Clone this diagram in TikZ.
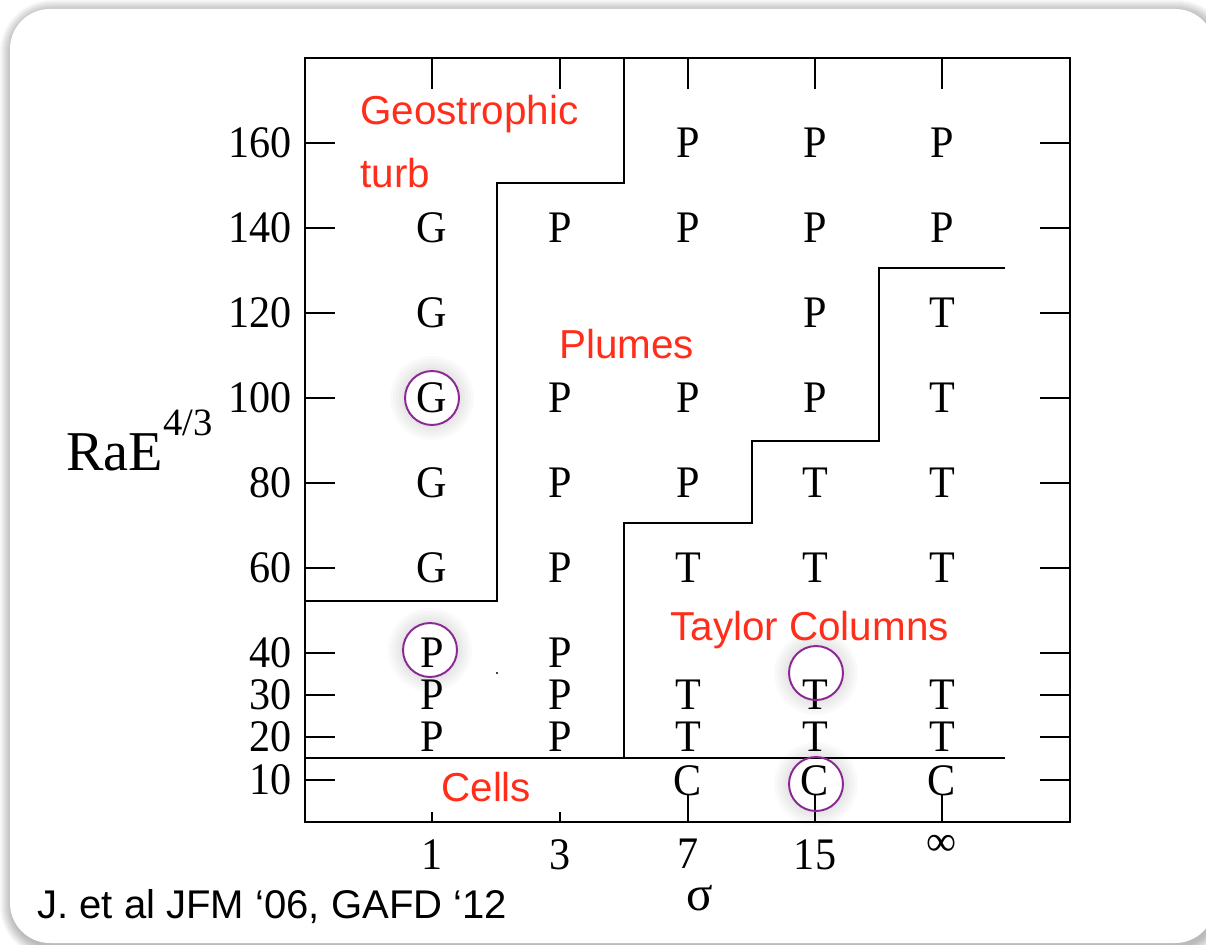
\documentclass[tikz,border=0pt]{standalone}
\usepackage{fontspec}
\setmainfont{Liberation Serif}
\newfontfamily\labfont{Liberation Sans}
\definecolor{lblred}{RGB}{255,45,25}
\definecolor{ringpurple}{RGB}{140,40,150}
\newcommand{\tallglyph}[1]{\scalebox{1}[1.07]{#1}}
\tikzset{
  lt/.style={font=\fontsize{24}{24}\selectfont, inner sep=0pt},
  regionlbl/.style={font=\labfont\fontsize{23}{23}\selectfont, text=lblred, inner sep=0pt, anchor=base west},
  frame/.style={line width=1.6pt},
  tickline/.style={line width=1.4pt},
  boundary/.style={line width=1.15pt, line join=miter},
  ring/.style={draw=ringpurple, line width=1.1pt},
}
\begin{document}
\begin{tikzpicture}[x=0.02cm, y=-0.02cm]
\useasboundingbox (0,0) rectangle (1206,945);
\fill[white] (0,0) rectangle (1206,945);
% card shadow
\foreach \r [evaluate=\r as \rc using 0.8+0.02*\r] in {1,...,12}
  \fill[black, opacity=0.025, rounded corners=\rc cm] (10-\r+2,9-\r+3) rectangle (1215+\r+2,943+\r+3);
% card
\fill[white, rounded corners=0.8cm] (10,9) rectangle (1215,943);
% soft halos around the rings
\foreach \cx/\cy in {432/398, 430/650, 816/673, 816/784}
  \foreach \hr in {30,33,36,39,42}
    \fill[black, opacity=0.018, even odd rule] (\cx,\cy) circle (\hr) (\cx,\cy) circle (26);
% frame
\draw[frame] (305,58) rectangle (1070,822);
% ticks
\foreach \y in {143,228,313,398,483,568,653,695,737,780} {
  \draw[tickline] (305,\y) -- (335,\y);
  \draw[tickline] (1040,\y) -- (1070,\y);
}
\foreach \x in {432,560,688,815,942}
  \draw[tickline] (\x,58) -- (\x,89);
\foreach \x in {432,560}
  \draw[tickline] (\x,822) -- (\x,812);
\foreach \x in {688,815,942}
  \draw[tickline] (\x,822) -- (\x,794);
% regime boundaries
\draw[boundary] (624,58) -- (624,183) -- (497,183) -- (497,601) -- (305,601);
\draw[boundary] (1005,268) -- (879,268) -- (879,441) -- (752,441) -- (752,523) -- (624,523) -- (624,758);
\draw[boundary] (305,758) -- (1005,758);
\fill (497,673) circle (1.1);
% y tick labels
\foreach \v/\y in {160/143,140/228,120/313,100/398,80/483,60/568,40/653,30/695,20/737,10/780}
  \node[lt, anchor=east] (yl\v) at (292,\y) {\tallglyph{\v}};
% x tick labels
\node[lt] (xl1) at (432,855) {\tallglyph{1}};
\node[lt] (xl3) at (560,855) {\tallglyph{3}};
\node[lt] (xl7) at (688,854) {\tallglyph{7}};
\node[lt] (xl15) at (815,855) {\tallglyph{15}};
\node[lt] (xlinf) at (942,845) {∞};
% axis titles
\node[anchor=base west, inner sep=0pt, font=\fontsize{32}{32}\selectfont] (ylab) at (66,470) {RaE};
\node[anchor=base west, inner sep=0pt, font=\fontsize{22}{22}\selectfont] (ysup) at (163,436) {4/3};
\node[inner sep=0pt, font=\fontsize{28}{28}\selectfont] (xlab) at (700,898) {σ};
% grid of regimes
\foreach \t/\x/\y [count=\i] in {
  P/688/143, P/815/143, P/942/143,
  G/432/228, P/560/228, P/688/228, P/815/228, P/942/228,
  G/432/313, P/815/313, T/942/313,
  G/432/398, P/560/398, P/688/398, P/815/398, T/942/398,
  G/432/483, P/560/483, P/688/483, T/815/483, T/942/483,
  G/432/568, P/560/568, T/688/568, T/815/568, T/942/568,
  P/432/653, P/560/653,
  P/432/695, P/560/695, T/688/695, T/815/695, T/942/695,
  P/432/737, P/560/737, T/688/737, T/815/737, T/942/737,
  C/688/781, C/815/781, C/942/781}
  \node[lt] (g\i) at (\x,\y) {\tallglyph{\t}};
% highlight rings
\draw[ring] (432,398) circle (27);
\draw[ring] (430,650) circle (27);
\draw[ring] (816,673) circle (27);
\draw[ring] (816,784) circle (27);
% region labels
\node[regionlbl] (geo) at (360,125) {Geostrophic};
\node[regionlbl] (turb) at (360,188) {turb};
\node[regionlbl] (plumes) at (559,359) {Plumes};
\node[regionlbl] (taylor) at (670,640) {Taylor Columns};
\node[regionlbl] (cells) at (441,801) {Cells};
% citation
\node[anchor=base west, inner sep=0pt, font=\labfont\fontsize{22.8}{22.8}\selectfont] (cite) at (37,918) {J. et al JFM ‘06, GAFD ‘12};
\end{tikzpicture}
\end{document}
